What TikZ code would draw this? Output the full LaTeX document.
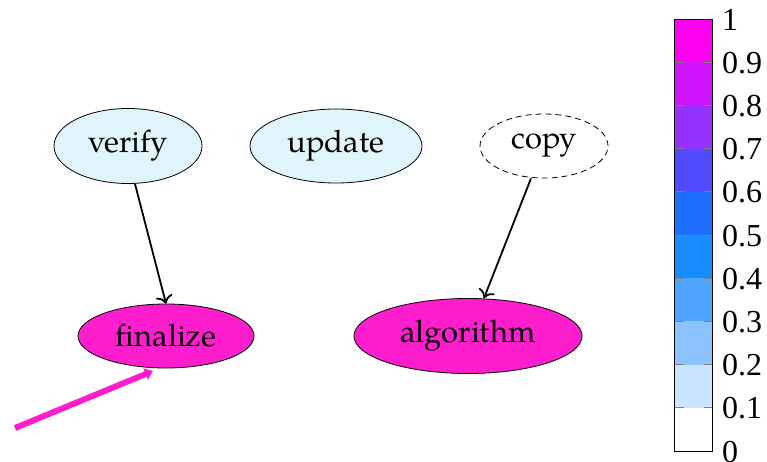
\documentclass[tikz,border=0pt]{standalone}
\usepackage{fontspec}
\setmainfont{TeX Gyre Pagella}
\newfontfamily\barfont{Liberation Serif}
\usetikzlibrary{shapes.geometric,arrows.meta}

\definecolor{nodeblue}{RGB}{224,244,252}
\definecolor{nodepink}{RGB}{255,30,205}
\definecolor{c1}{RGB}{200,228,255}
\definecolor{c2}{RGB}{140,195,255}
\definecolor{c3}{RGB}{80,165,255}
\definecolor{c4}{RGB}{25,140,255}
\definecolor{c5}{RGB}{30,110,255}
\definecolor{c6}{RGB}{80,75,255}
\definecolor{c7}{RGB}{150,50,255}
\definecolor{c8}{RGB}{205,20,250}
\definecolor{c9}{RGB}{255,0,240}

\tikzset{
  oval/.style={ellipse, draw=black, line width=0.8pt, inner sep=0pt,
    font=\fontsize{31}{34}\selectfont},
  bluenode/.style={oval, fill=nodeblue},
  pinknode/.style={oval, fill=nodepink},
  dashnode/.style={oval, dashed, dash pattern=on 6pt off 4pt},
  link/.style={draw=black, line width=1.8pt, -{To[length=8pt,width=17pt]}},
  barlabel/.style={anchor=base west, inner sep=0pt, font=\barfont\fontsize{32}{34}\selectfont},
  tick/.style={draw=gray, line width=1pt}
}

\begin{document}
\begin{tikzpicture}[x=1pt,y=-1pt]
\useasboundingbox (0,0) rectangle (767,461);

% graph nodes
\node[bluenode, minimum width=148pt, minimum height=75pt] (verify) at (128,146) {verify};
\node[bluenode, minimum width=172pt, minimum height=74pt] (update) at (336,146) {update};
\node[dashnode, minimum width=128pt, minimum height=64pt] (copy) at (544,146) {copy};
\node[pinknode, minimum width=176pt, minimum height=64pt] (finalize) at (166,336) {finalize};
\node[pinknode, minimum width=228pt, minimum height=75pt] (algorithm) at (468,336) {algorithm};

% edges
\draw[link] (verify.south) ++(7,0) coordinate (vs) (vs) -- (finalize.north);
\draw[link] (copy.south) ++(-13,0) coordinate (cs) (cs) -- ([xshift=16pt]algorithm.north);

% highlight arrow
\coordinate (hstart) at (15,428);
\coordinate (hend) at (153,371);
\draw[nodepink, line width=6pt, -{Triangle[length=8pt,width=12pt]}] (hstart) -- (hend);

% colour bar
\foreach \i/\c in {0/white,1/c1,2/c2,3/c3,4/c4,5/c5,6/c6,7/c7,8/c8,9/c9} {
  \fill[\c] (674.5,{451-43.2*\i}) rectangle (712.5,{451-43.2*(\i+1)});
}
\foreach \i in {1,...,9} {
  \draw[tick] (674.5,{451-43.2*\i}) -- ++(9,0);
  \draw[tick] (712.5,{451-43.2*\i}) -- ++(-9,0);
}
\draw[black, line width=1pt] (674.5,19) rectangle (712.5,451);
\foreach \i/\t in {0/0,1/0.1,2/0.2,3/0.3,4/0.4,5/0.5,6/0.6,7/0.7,8/0.8,9/0.9,10/1} {
  \node[barlabel] (lab\i) at (722,{462-43.2*\i}) {\t};
}
\end{tikzpicture}
\end{document}
